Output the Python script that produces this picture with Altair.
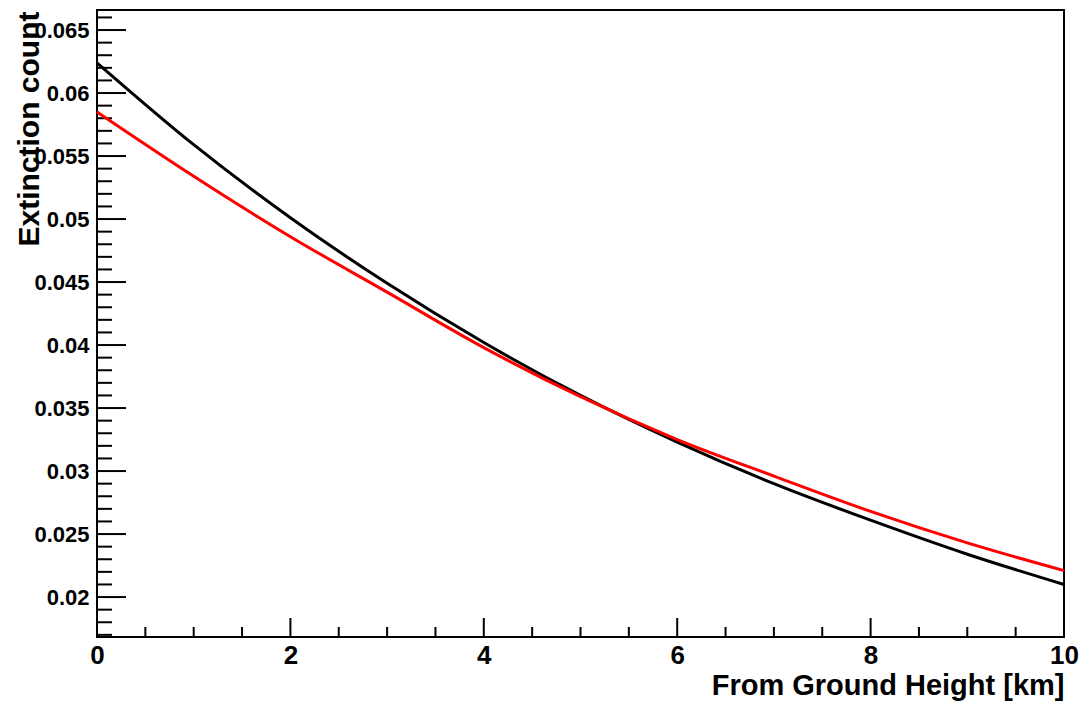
import altair as alt
import pandas as pd

# ---- data ----
height_km = [0, 1, 2, 3, 4, 5, 6, 7, 8, 9, 10]
black_curve = [0.0624, 0.0559, 0.0501, 0.0449, 0.0402, 0.0360, 0.0323, 0.0290, 0.0261, 0.0234, 0.0210]
red_curve = [0.0585, 0.0534, 0.0486, 0.0442, 0.0398, 0.0359, 0.0325, 0.0296, 0.0268, 0.0243, 0.0221]

x_major = [0, 2, 4, 6, 8, 10]
x_minor = [0.5, 1, 1.5, 2.5, 3, 3.5, 4.5, 5, 5.5, 6.5, 7, 7.5, 8.5, 9, 9.5]
y_major = [0.02, 0.025, 0.03, 0.035, 0.04, 0.045, 0.05, 0.055, 0.06, 0.065]
y_minor = [round(0.017 + 0.001 * i, 3) for i in range(50)]
y_minor = [v for v in y_minor if v <= 0.0665 and all(abs(v - m) > 1e-9 for m in y_major)]

X_DOMAIN = [0, 10]
Y_DOMAIN = [0.01683, 0.06659]
W, H = 967, 627
FONT = "Liberation Sans"

rows = []
for x, b, r in zip(height_km, black_curve, red_curve):
    rows.append({"x": x, "y": b, "series": "black"})
    rows.append({"x": x, "y": r, "series": "red"})
df = pd.DataFrame(rows)

xs = alt.Scale(domain=X_DOMAIN, nice=False, zero=False)
ys = alt.Scale(domain=Y_DOMAIN, nice=False, zero=False)

lines = alt.Chart(df).mark_line(strokeWidth=3, interpolate="monotone").encode(
    x=alt.X("x:Q", scale=xs,
            axis=alt.Axis(values=x_major, format="d", title="From Ground Height [km]",
                          ticks=False, domain=False, grid=False,
                          labelFont=FONT, labelFontWeight="bold", labelFontSize=26,
                          labelColor="black", labelPadding=5, labelFlush=False,
                          titleFont=FONT, titleFontWeight="bold", titleFontSize=29,
                          titleColor="black", titleAnchor="end", titleAlign="right",
                          titleBaseline="alphabetic", titleX=W, titleY=57)),
    y=alt.Y("y:Q", scale=ys,
            axis=alt.Axis(values=y_major, format="~g", title="Extinction count",
                          ticks=False, domain=False, grid=False,
                          labelFont=FONT, labelFontWeight="bold", labelFontSize=22,
                          labelColor="black", labelPadding=8, labelFlush=False,
                          titleFont=FONT, titleFontWeight="bold", titleFontSize=30,
                          titleColor="black", titleAngle=270, titleAlign="right",
                          titleBaseline="alphabetic", titleX=-59, titleY=1)),
    color=alt.Color("series:N", scale=alt.Scale(domain=["black", "red"], range=["#000000", "#ff0000"]),
                    legend=None),
    detail="series:N",
)

ymaj = alt.Chart(pd.DataFrame({"v": y_major})).mark_rule(color="black", strokeWidth=2).encode(
    y=alt.Y("v:Q", scale=ys), x=alt.value(0), x2=alt.value(29))
ymin = alt.Chart(pd.DataFrame({"v": y_minor})).mark_rule(color="black", strokeWidth=2).encode(
    y=alt.Y("v:Q", scale=ys), x=alt.value(0), x2=alt.value(15))
xmaj = alt.Chart(pd.DataFrame({"v": x_major})).mark_rule(color="black", strokeWidth=2).encode(
    x=alt.X("v:Q", scale=xs), y=alt.value(H), y2=alt.value(H - 19))
xmin = alt.Chart(pd.DataFrame({"v": x_minor})).mark_rule(color="black", strokeWidth=2).encode(
    x=alt.X("v:Q", scale=xs), y=alt.value(H), y2=alt.value(H - 10))

chart = alt.layer(ymaj, ymin, xmaj, xmin, lines).properties(
    width=W, height=H,
    autosize=alt.AutoSizeParams(type="none"),
    padding={"left": 97, "top": 10, "right": 19, "bottom": 67},
    background="white",
).configure_view(stroke="black", strokeWidth=2)

chart.save("out.html", embed_options={"renderer": "svg", "actions": False})
